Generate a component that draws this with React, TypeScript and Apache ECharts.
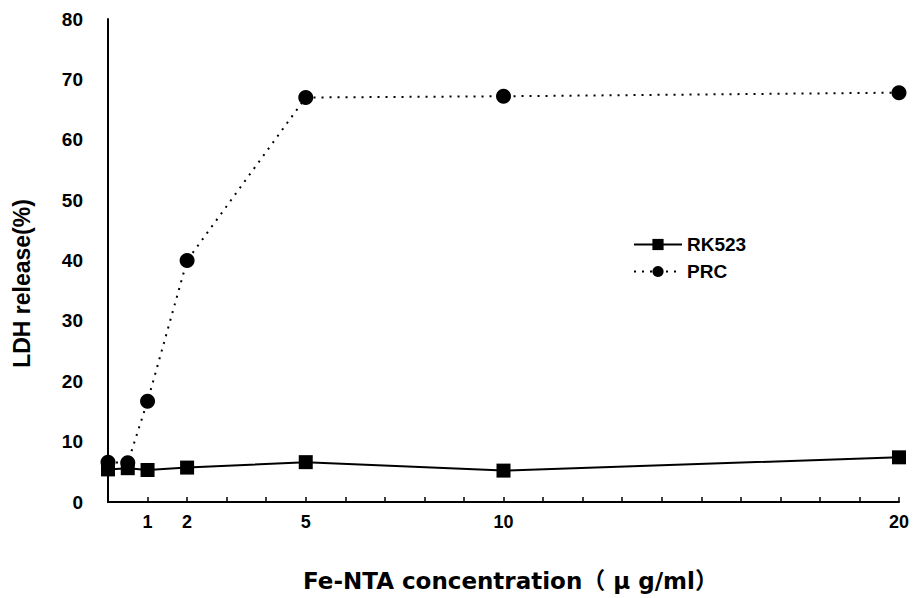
import React, { useEffect, useRef } from "react";
import * as echarts from "echarts";

const concentrations = [0, 0.5, 1, 2, 5, 10, 20];
const rk523 = [5.4, 5.6, 5.3, 5.7, 6.6, 5.2, 7.4];
const prc = [6.6, 6.5, 16.7, 40.0, 67.0, 67.2, 67.8];
const xTickLabels = [1, 2, 5, 10, 20];
const seriesNames = ["RK523", "PRC"];

const FONT = "'Liberation Sans', Arial, sans-serif";
const XFONT = "'DejaVu Sans', 'Noto Sans CJK JP', sans-serif";

export default function App() {
  const ref = useRef<HTMLDivElement>(null);
  useEffect(() => {
    if (!ref.current) return;
    const chart = echarts.init(ref.current, undefined, { renderer: "svg" });
    chart.setOption({
      animation: false,
      backgroundColor: "#ffffff",
      textStyle: { fontFamily: FONT },
      grid: {
        left: 108,
        right: 15,
        top: 19,
        bottom: 96,
        containLabel: false,
        outerBoundsMode: "none",
      },
      legend: {
        orient: "vertical",
        left: 628,
        top: 230,
        itemWidth: 48,
        itemHeight: 14,
        itemGap: 8,
        textStyle: { fontFamily: FONT, fontWeight: "bold", fontSize: 19, color: "#000" },
        data: seriesNames,
      },
      xAxis: {
        type: "value",
        min: 0,
        max: 20,
        interval: 1,
        name: "Fe-NTA concentration（ μ g/ml）",
        nameLocation: "middle",
        nameGap: 67,
        nameTextStyle: {
          fontFamily: XFONT,
          fontWeight: "bold",
          fontSize: 23,
          color: "#000",
          padding: [0, 0, 0, 14],
        },
        axisLine: { lineStyle: { color: "#000", width: 2 } },
        axisTick: { inside: true, length: 5, lineStyle: { color: "#000", width: 1.5 } },
        splitLine: { show: false },
        axisLabel: {
          margin: 11,
          fontFamily: FONT,
          fontWeight: "bold",
          fontSize: 18,
          color: "#000",
          formatter: (v: number) => (xTickLabels.includes(v) ? String(v) : ""),
        },
      },
      yAxis: {
        type: "value",
        min: 0,
        max: 80,
        interval: 10,
        name: "LDH release(%)",
        nameLocation: "middle",
        nameGap: 75,
        nameTextStyle: {
          fontFamily: FONT,
          fontWeight: "bold",
          fontSize: 23,
          color: "#000",
          padding: [0, 46, 0, 0],
        },
        axisLine: { show: true, lineStyle: { color: "#000", width: 2 } },
        axisTick: { show: false },
        splitLine: { show: false },
        axisLabel: {
          margin: 25,
          fontFamily: FONT,
          fontWeight: "bold",
          fontSize: 19,
          color: "#000",
        },
      },
      series: [
        {
          name: seriesNames[0],
          type: "line",
          data: concentrations.map((c, i) => [c, rk523[i]]),
          symbol: "rect",
          symbolSize: 14,
          itemStyle: { color: "#000" },
          lineStyle: { color: "#000", width: 2, type: "solid" },
          z: 3,
        },
        {
          name: seriesNames[1],
          type: "line",
          data: concentrations.map((c, i) => [c, prc[i]]),
          symbol: "circle",
          symbolSize: 15,
          itemStyle: { color: "#000" },
          lineStyle: { color: "#000", width: 2, type: [2, 6] },
          z: 2,
        },
      ],
    });
    return () => chart.dispose();
  }, []);
  return <div ref={ref} style={{ width: 914, height: 598, position: "absolute", left: 0, top: 0 }} />;
}
